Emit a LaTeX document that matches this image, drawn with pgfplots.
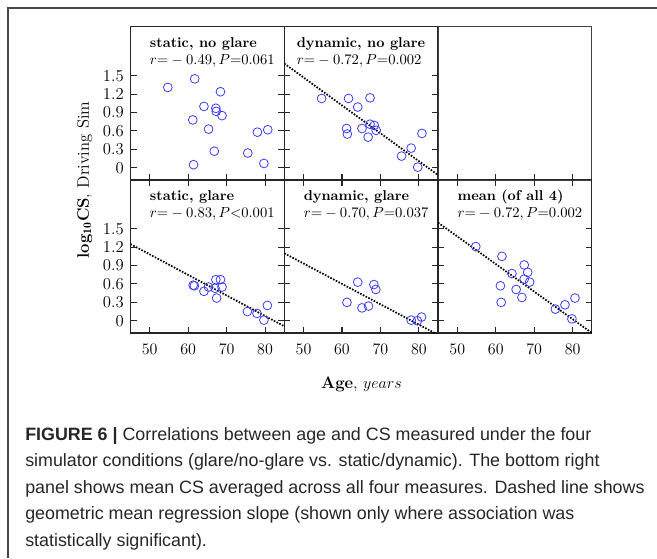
\documentclass[border=0pt]{standalone}
\usepackage{pgfplots}
\pgfplotsset{compat=1.18}
\usepackage{fontspec}
\newfontfamily\capfont{Liberation Sans}

\definecolor{ptblue}{RGB}{60,60,250}
\definecolor{framegray}{RGB}{70,70,70}

\pgfplotsset{
  panel/.style={
    scale only axis, width=115.35pt, height=114.94pt,
    anchor=south west,
    xmin=45, xmax=85, ymin=-0.2, ymax=2.3,
    xtick={50,60,70,80},
    ytick={0,0.3,0.6,0.9,1.2,1.5},
    yticklabels={0,0.3,0.6,0.9,1.2,1.5},
    tick align=inside, major tick length=4.5pt,
    axis line style={line width=0.9pt, black!85},
    every tick/.style={line width=0.8pt, black!85},
    tick label style={font=\fontsize{12.5}{13}\selectfont},
    xticklabel style={yshift=-5pt},
    yticklabel style={xshift=-1.5pt},
  },
  top row/.style={xtick pos=left, xticklabels={}},
  no ylabels/.style={yticklabels={}},
  pts/.style={only marks, mark=o, mark size=3.3pt, color=ptblue,
    mark options={line width=0.6pt}},
  fit/.style={black, line width=1.3pt, dash pattern=on 1.2pt off 1.1pt},
}

% panel title and statistics line
\newcommand{\paneltext}[3][50]{%
  \node[anchor=base west, inner sep=0pt,
    font=\fontsize{10.7}{12}\selectfont\bfseries] at (axis cs:#1,1.965) {#2};
  \node[anchor=base west, inner sep=0pt,
    font=\fontsize{11}{12}\selectfont] at (axis cs:#1,1.69) {#3};
}

\begin{document}
\begin{tikzpicture}
\useasboundingbox (0,0) rectangle (492.75pt,418.5pt);

% outer frame (top and left only)
\draw[framegray, line width=1.1pt] (6pt,0) -- (6pt,412.5pt) -- (492.75pt,412.5pt);

% ---- top row ----
\begin{axis}[panel, top row, at={(97.875pt,283.5pt)}]
\addplot[pts] coordinates {
  (54.7,1.31) (61.7,1.45) (68.4,1.24) (64.1,1.00) (67.2,0.97) (67.3,0.92)
  (68.8,0.85) (61.2,0.78) (65.3,0.63) (78.0,0.58) (80.7,0.62) (66.8,0.27)
  (75.5,0.24) (61.4,0.05) (79.7,0.07)
};
\paneltext{static, no glare}{$r{=}-0.49, P{=}0.061$}
\end{axis}

\begin{axis}[panel, top row, no ylabels, at={(213.225pt,283.5pt)}]
\addplot[pts] coordinates {
  (54.7,1.13) (61.7,1.13) (67.3,1.14) (64.1,0.99) (61.2,0.64) (61.4,0.55)
  (65.2,0.64) (67.3,0.71) (68.4,0.69) (68.9,0.61) (66.8,0.50) (80.8,0.56)
  (78.0,0.32) (75.5,0.19) (79.7,0.01)
};
\addplot[fit] coordinates {(45,1.70) (85,-0.12)};
\paneltext[48.2]{dynamic, no glare}{$r{=}-0.72, P{=}0.002$}
\end{axis}

% empty panel
\begin{axis}[scale only axis, width=115.35pt, height=114.94pt,
  anchor=south west, at={(328.575pt,283.5pt)},
  xmin=45, xmax=85, ymin=0, ymax=1,
  xtick={50,60,70,80}, xticklabels={}, xtick pos=left, ytick=\empty,
  tick align=inside, major tick length=4.5pt,
  every tick/.style={line width=0.8pt, black!85},
  axis line style={line width=0.6pt, black!75}]
\end{axis}

% ---- bottom row ----
\begin{axis}[panel, at={(97.875pt,168.75pt)}]
\addplot[pts] coordinates {
  (61.3,0.58) (61.6,0.57) (64.1,0.48) (65.3,0.55) (67.2,0.67) (68.4,0.67)
  (67.0,0.53) (68.8,0.55) (67.4,0.37) (75.4,0.15) (77.9,0.12) (79.7,0.01)
  (80.6,0.25)
};
\addplot[fit] coordinates {(45,1.25) (85,-0.09)};
\paneltext{static, glare}{$r{=}-0.83, P{<}0.001$}
\end{axis}

\begin{axis}[panel, no ylabels, at={(213.225pt,168.75pt)}]
\addplot[pts] coordinates {
  (64.1,0.63) (68.3,0.59) (68.8,0.51) (61.3,0.30) (65.2,0.21) (66.9,0.24)
  (78.0,0.01) (79.6,0.00) (80.7,0.06)
};
\addplot[fit] coordinates {(45,1.10) (85,-0.23)};
\paneltext{dynamic, glare}{$r{=}-0.70, P{=}0.037$}
\end{axis}

\begin{axis}[panel, no ylabels, at={(328.575pt,168.75pt)}]
\addplot[pts] coordinates {
  (54.8,1.21) (61.6,1.05) (67.4,0.91) (68.3,0.79) (64.2,0.77) (67.4,0.68)
  (68.8,0.63) (61.2,0.57) (65.3,0.51) (66.8,0.38) (61.4,0.30) (80.6,0.37)
  (78.0,0.26) (75.5,0.19) (79.8,0.03)
};
\addplot[fit] coordinates {(45,1.60) (85,-0.20)};
\paneltext{mean (of all 4)}{$r{=}-0.72, P{=}0.002$}
\end{axis}

% shared axis labels
\node[rotate=90, font=\fontsize{12.5}{14}\selectfont] at (63.5pt,283.5pt)
  {\textbf{log}$_{\mathbf{10}}$\textbf{CS}, Driving Sim};
\node[anchor=base, font=\fontsize{12.5}{14}\selectfont] at (271.1pt,127.5pt)
  {\textbf{Age}, $years$};

% caption
\begin{scope}[every node/.style={anchor=base west, inner sep=0pt,
    font=\capfont\fontsize{13.4}{16}\selectfont, text=black!85}]
\node at (18.75pt,88.5pt) {\textbf{FIGURE 6 |} Correlations between age and CS measured under the four};
\node at (18.75pt,68.6pt) {simulator conditions (glare/no-glare vs. static/dynamic). The bottom right};
\node at (18.75pt,48.75pt) {panel shows mean CS averaged across all four measures. Dashed line shows};
\node at (18.75pt,28.9pt) {geometric mean regression slope (shown only where association was};
\node at (18.75pt,9pt) {statistically significant).};
\end{scope}
\end{tikzpicture}
\end{document}
